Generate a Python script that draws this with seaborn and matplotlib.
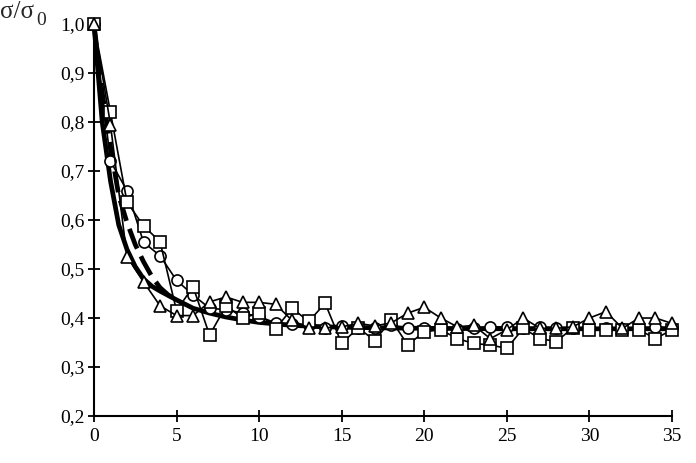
import matplotlib
matplotlib.use("Agg")
import matplotlib.pyplot as plt
import seaborn as sns

# dados (sigma/sigma0 em função de x)
x_pts = list(range(36))
circulos = [1.0, 0.72, 0.66, 0.555, 0.527, 0.477, 0.447, 0.42, 0.417, 0.41,
            0.403, 0.39, 0.388, 0.385, 0.38, 0.383, 0.38, 0.38, 0.385, 0.38,
            0.38, 0.38, 0.378, 0.38, 0.382, 0.382, 0.38, 0.382, 0.38, 0.38,
            0.38, 0.38, 0.378, 0.38, 0.382, 0.38]
quadrados = [1.0, 0.82, 0.637, 0.588, 0.556, 0.415, 0.464, 0.365, 0.425, 0.40,
             0.41, 0.378, 0.42, 0.393, 0.43, 0.348, 0.38, 0.354, 0.396, 0.345,
             0.372, 0.376, 0.358, 0.348, 0.345, 0.338, 0.379, 0.358, 0.352, 0.38,
             0.376, 0.376, 0.376, 0.376, 0.358, 0.376]
triangulos = [1.0, 0.795, 0.525, 0.474, 0.425, 0.405, 0.405, 0.433, 0.443, 0.432,
              0.432, 0.428, 0.395, 0.38, 0.38, 0.382, 0.389, 0.384, 0.39, 0.41,
              0.422, 0.40, 0.382, 0.385, 0.358, 0.376, 0.40, 0.379, 0.379, 0.382,
              0.40, 0.413, 0.379, 0.40, 0.40, 0.389]

# curvas de ajuste (grossas)
curva_x = [0, 0.5, 1, 1.5, 2, 2.5, 3, 3.5, 4, 5, 6, 7, 8, 9, 10, 12, 14, 17, 20, 25, 30, 35]
curva_y = [1.0, 0.80, 0.68, 0.59, 0.54, 0.505, 0.48, 0.465, 0.455, 0.437, 0.42,
           0.41, 0.402, 0.396, 0.391, 0.385, 0.382, 0.38, 0.379, 0.378, 0.378, 0.378]
tracejada_x = [0, 0.5, 1, 1.5, 2, 2.5, 3, 3.5, 4, 4.5, 5]
tracejada_y = [1.0, 0.86, 0.75, 0.65, 0.595, 0.55, 0.515, 0.485, 0.462, 0.447, 0.437]

y_ticks = [0.2, 0.3, 0.4, 0.5, 0.6, 0.7, 0.8, 0.9, 1.0]
y_labels = ['0,2', '0,3', '0,4', '0,5', '0,6', '0,7', '0,8', '0,9', '1,0']
x_ticks = [0, 5, 10, 15, 20, 25, 30, 35]

sns.set_style("ticks")
plt.rcParams['font.family'] = ['Liberation Serif', 'DejaVu Serif']

fig = plt.figure(figsize=(6.96, 4.63), dpi=100)
ax = fig.add_axes([0.135, 0.1015, 0.8305, 0.8465])

sns.lineplot(x=curva_x, y=curva_y, ax=ax, color='black', linewidth=3.4, zorder=2)
sns.lineplot(x=tracejada_x, y=tracejada_y, ax=ax, color='black', linewidth=3.4,
             dashes=False, zorder=2).lines[-1].set_dashes((4.5, 1.8))

estilo = dict(color='black', linewidth=1.2, markersize=8, markerfacecolor='white',
              markeredgecolor='black', markeredgewidth=1.2, zorder=3)
sns.lineplot(x=x_pts, y=circulos, ax=ax, marker='o', **estilo)
sns.lineplot(x=x_pts, y=quadrados, ax=ax, marker='s', **estilo)
sns.lineplot(x=x_pts, y=triangulos, ax=ax, marker='^', **estilo)

ax.set_xlim(0, 35)
ax.set_ylim(0.2, 1.0)
ax.set_xticks(x_ticks)
ax.set_yticks(y_ticks)
ax.set_yticklabels(y_labels)
ax.tick_params(direction='inout', length=9, width=1.3, labelsize=14, colors='black', pad=2)
ax.tick_params(axis='x', pad=4)
for lado in ['top', 'right']:
    ax.spines[lado].set_visible(False)
for lado in ['left', 'bottom']:
    ax.spines[lado].set_linewidth(1.5)
    ax.spines[lado].set_color('black')
for artista in ax.lines + ax.collections:
    artista.set_clip_on(False)

fig.text(0.0, 0.962, 'σ/σ', fontsize=18, ha='left', va='baseline')
fig.text(0.052, 0.947, '0', fontsize=14, ha='left', va='baseline')

fig.savefig('out.png', dpi=100)
